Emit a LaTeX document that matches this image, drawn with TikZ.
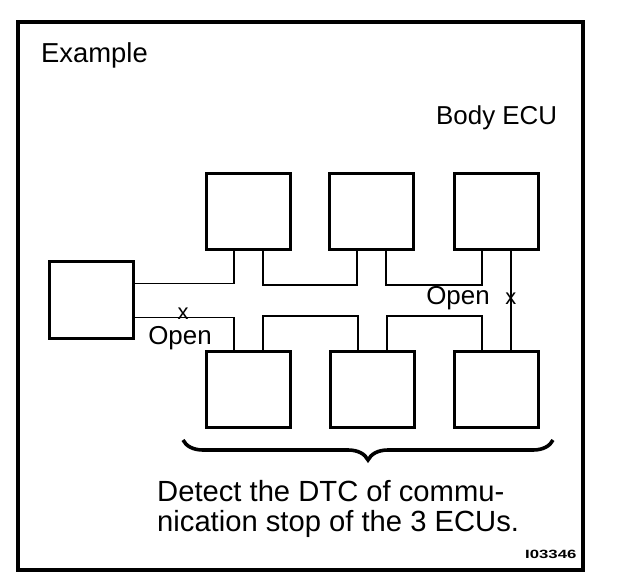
\documentclass[tikz,border=0pt]{standalone}
\usepackage{fontspec}
\setmainfont{Liberation Sans}
\usetikzlibrary{calc,decorations.pathreplacing}
\begin{document}
\begin{tikzpicture}[x=1bp,y=-1bp,
  ecu/.style={draw,line width=2.8bp,minimum width=84bp,minimum height=76bp,inner sep=0pt,anchor=north west},
  wire/.style={line width=1.8bp},
  lbl/.style={inner sep=0pt,font=\fontsize{26}{30}\selectfont},
  xmark/.style={inner sep=0pt,font=\fontsize{22}{26}\selectfont},
  ]
\useasboundingbox (0,0) rectangle (624,588);
\draw[line width=3.8bp] (18,22) rectangle (583,570);

\node[lbl,anchor=base west,font=\fontsize{27.5}{30}\selectfont] (ex) at (41,63) {Example};
\node[lbl,anchor=base west] (body) at (436,125) {Body ECU};

\node[ecu,minimum height=77bp] (L) at (48,260) {};
\node[ecu] (T1) at (205,172) {};
\node[ecu] (T2) at (328,172) {};
\node[ecu] (T3) at (453,172) {};
\node[ecu] (B1) at (205,350) {};
\node[ecu] (B2) at (329,350) {};
\node[ecu] (B3) at (453,350) {};

\foreach \n in {T1,T2,T3}{
  \coordinate (\n a) at ($(\n.south west)!1/3!(\n.south east)$);
  \coordinate (\n b) at ($(\n.south west)!2/3!(\n.south east)$);
}
\foreach \n in {B1,B2,B3}{
  \coordinate (\n a) at ($(\n.north west)!1/3!(\n.north east)$);
  \coordinate (\n b) at ($(\n.north west)!2/3!(\n.north east)$);
}

\draw[wire] ([yshift=16.5bp]L.east) -| (T1a);
\draw[wire] (T1b) -- ++(0,34) -| (T2a);
\draw[wire] (T2b) -- ++(0,34) -| (T3a);
\draw[wire] (T3b) -- (B3b);
\draw[wire] ([yshift=-17.5bp]L.east) -| (B1a);
\draw[wire] (B1b) -- ++(0,-34) -| (B2a);
\draw[wire] (B2b) -- ++(0,-34) -| (B3a);

\node[xmark] (x1) at (183,314) {x};
\node[xmark] (x2) at ($(T3b)!0.48!(B3b)$) {x};
\node[lbl] (open1) at (180,338) {Open};
\node[lbl] (open2) at (458,298) {Open};

\draw[decorate,decoration={brace,mirror,amplitude=20bp},line width=3.6bp] (183,440) -- (553,440);

\node[lbl,anchor=base west,align=left,font=\fontsize{29.3}{30}\selectfont] (det) at (157,531) {Detect the DTC of commu-\\nication stop of the 3 ECUs.};

\node[inner sep=0pt,anchor=base west,font=\bfseries\fontsize{12}{14}\selectfont] (id) at (525,558) {\scalebox{1.4}[1]{I03346}};
\end{tikzpicture}
\end{document}
